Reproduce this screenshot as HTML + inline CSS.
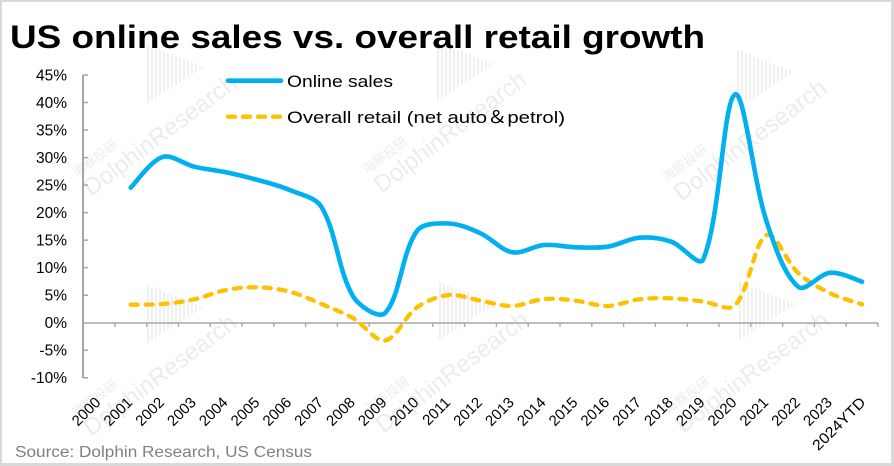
<!DOCTYPE html>
<html><head><meta charset="utf-8">
<style>
html,body{margin:0;padding:0;background:#d9d9d9;}
svg{display:block}
</style></head>
<body>
<svg id="c" width="894" height="466" viewBox="0 0 894 466" xmlns="http://www.w3.org/2000/svg" font-family="'Liberation Sans','Noto Sans CJK SC',sans-serif">
<rect x="2" y="2" width="889" height="461" fill="#ffffff"/>

<!-- watermarks -->
<g id="wm" fill="#ececec" stroke="none"></g>

<!-- title -->
<text x="10" y="48" font-size="32" font-weight="bold" fill="#000" textLength="695" lengthAdjust="spacingAndGlyphs">US online sales vs. overall retail growth</text>

<!-- y labels -->
<g font-size="15.5" fill="#000" text-anchor="end">
<text x="67" y="80.5">45%</text>
<text x="67" y="108">40%</text>
<text x="67" y="135.5">35%</text>
<text x="67" y="163">30%</text>
<text x="67" y="190.5">25%</text>
<text x="67" y="218">20%</text>
<text x="67" y="245.5">15%</text>
<text x="67" y="273">10%</text>
<text x="67" y="300.5">5%</text>
<text x="67" y="328">0%</text>
<text x="67" y="355.5">-5%</text>
<text x="67" y="383">-10%</text>
</g>

<!-- axes -->
<g stroke="#a6a6a6" fill="none">
<line x1="83" y1="75" x2="83" y2="378" stroke-width="2"/>
<path d="M83,75H88M83,102.5H88M83,130H88M83,157.6H88M83,185.1H88M83,212.6H88M83,240.1H88M83,267.6H88M83,295.2H88M83,350.2H88M83,377.7H88" stroke-width="1.5"/>
<line x1="83" y1="323" x2="878" y2="323" stroke-width="1.4"/>
<g id="xt" stroke-width="1.3"></g>
</g>

<!-- series -->
<path id="ret" fill="none" stroke="#FFC000" stroke-width="4.3" stroke-linecap="round" stroke-linejoin="round" stroke-dasharray="7 8"/>
<path id="onl" fill="none" stroke="#00B0F0" stroke-width="4.6" stroke-linecap="round" stroke-linejoin="round"/>

<!-- legend -->
<line x1="228" y1="80.7" x2="281" y2="80.7" stroke="#00B0F0" stroke-width="4.6" stroke-linecap="round"/>
<text x="287" y="87" font-size="17" fill="#000" textLength="106" lengthAdjust="spacingAndGlyphs">Online sales</text>
<line x1="228" y1="116.7" x2="281" y2="116.7" stroke="#FFC000" stroke-width="4.3" stroke-linecap="round" stroke-dasharray="7 8"/>
<text x="287" y="123" font-size="17" fill="#000" textLength="278" lengthAdjust="spacingAndGlyphs">Overall retail (net auto＆petrol)</text>

<!-- x labels -->
<g id="xl" font-size="15" fill="#000" text-anchor="end"></g>

<!-- source -->
<text x="15" y="457" font-size="16" fill="#808080" textLength="297" lengthAdjust="spacingAndGlyphs">Source: Dolphin Research, US Census</text>
</svg>

<script>
(function(){
var NS="http://www.w3.org/2000/svg";
function el(tag,attrs,parent,txt){var e=document.createElementNS(NS,tag);for(var k in attrs)e.setAttribute(k,attrs[k]);if(txt!==undefined)e.textContent=txt;parent.appendChild(e);return e;}
function cx(i){return 83+31.8*(i+0.5);}

// x ticks
var xt=document.getElementById('xt');var d='';
for(var k=1;k<=25;k++){var x=83+31.8*k;d+='M'+x.toFixed(1)+',323V327';}
el('path',{d:d},xt);

// x labels
var xl=document.getElementById('xl');
var labs=['2000','2001','2002','2003','2004','2005','2006','2007','2008','2009','2010','2011','2012','2013','2014','2015','2016','2017','2018','2019','2020','2021','2022','2023','2024YTD'];
for(var i=0;i<labs.length;i++){
  var ax=cx(i)+2.6, ay=403.3;
  var a={x:ax.toFixed(1),y:ay,transform:'rotate(-45 '+ax.toFixed(1)+' '+ay+')'};
  if(i==24){ax=866.5;a.x=ax;a.transform='rotate(-45 '+ax+' '+ay+')';a.textLength=68;a.lengthAdjust='spacingAndGlyphs';}
  el('text',a,xl,labs[i]);
}

// smooth path (distance-weighted cardinal spline)
function dist(a,b){return Math.sqrt((a[0]-b[0])*(a[0]-b[0])+(a[1]-b[1])*(a[1]-b[1]));}
function path(ys,start){
  var p=ys.map(function(y,k){return [cx(k+start),y];});
  var n=p.length, cin=[], cout=[], s=1/3;
  for(var i=0;i<n;i++){
    var pp=p[i-1]||p[i], pn=p[i+1]||p[i];
    var T=[pn[0]-pp[0],pn[1]-pp[1]];
    var d1=i>0?dist(p[i-1],p[i]):0, d2=i<n-1?dist(p[i],p[i+1]):0;
    var tot=d1+d2||1;
    var w1=d1/tot, w2=d2/tot;
    if(i==0||i==n-1){w1=w2=0.5;}
    cin[i]=[p[i][0]-T[0]*w1*s,p[i][1]-T[1]*w1*s];
    cout[i]=[p[i][0]+T[0]*w2*s,p[i][1]+T[1]*w2*s];
  }
  var str='M'+p[0][0].toFixed(2)+','+p[0][1].toFixed(2);
  for(var i=0;i<n-1;i++){
    var c1=cout[i],c2=cin[i+1],p2=p[i+1];
    str+=' C'+c1[0].toFixed(2)+','+c1[1].toFixed(2)+' '+c2[0].toFixed(2)+','+c2[1].toFixed(2)+' '+p2[0].toFixed(2)+','+p2[1].toFixed(2);
  }
  return str;
}
var onl=[187.7,157,166.7,172.3,180,190,207,296.7,313,231,223.5,233.3,252.3,245,247.3,246.7,237.7,241.7,259.5,94.5,222,287,272.7,281.7];
var ret=[304.7,304,299.3,290,287.3,291.7,304,318.3,340.5,307.5,295,300.7,306,299,300.7,306,299.3,298.3,301.5,305.5,235,273.3,293.3,304.3];
document.getElementById('onl').setAttribute('d',path(onl,1));
document.getElementById('ret').setAttribute('d',path(ret,1));

// watermarks
var wm=document.getElementById('wm');
var cs=[[160,135],[450,132],[750,140],[160,375],[452,372],[752,372]];
cs.forEach(function(c){
  var g=el('g',{transform:'translate('+c[0]+','+c[1]+') rotate(-37)'},wm);
  el('text',{x:0,y:8,'text-anchor':'middle','font-size':24},g,'DolphinResearch');
  el('text',{x:-92,y:-16,'font-size':13},g,'海豚投研');
  var bx=c[0]-12, by=c[1]-90, dd='';
  for(var k=0;k<15;k++){var x=bx+4*k;var t=by+1.6*k;var b=by+58-2.6*k;dd+='M'+x+','+t+'V'+b;}
  el('path',{d:dd,stroke:'#ececec','stroke-width':1.6,fill:'none'},wm);
});
})();
</script>
</body></html>
